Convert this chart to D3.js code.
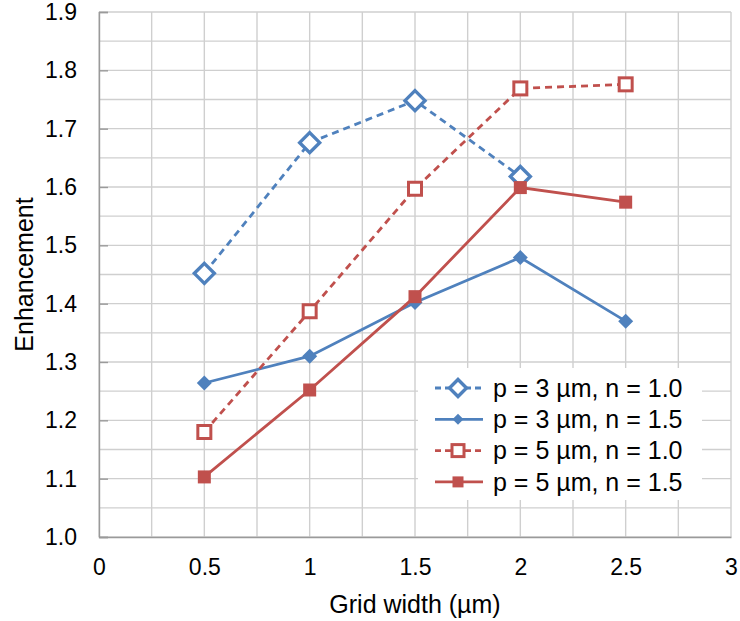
<!DOCTYPE html>
<html>
<head>
<meta charset="utf-8">
<script src="https://cdn.jsdelivr.net/npm/d3@7"></script>
<style>
  html, body { margin: 0; padding: 0; background: #fff; }
  text { font-family: "Liberation Sans", Arial, sans-serif; fill: #000; }
</style>
</head>
<body>
<svg id="chart" width="740" height="621"></svg>
<script>
// Grid widths (µm) along the x axis
const gridWidths = [0.5, 1, 1.5, 2, 2.5];

// Enhancement per series
const p3n10 = [1.452, 1.676, 1.748, 1.618];
const p3n15 = [1.264, 1.310, 1.402, 1.479, 1.370];
const p5n10 = [1.180, 1.387, 1.597, 1.769, 1.776];
const p5n15 = [1.103, 1.252, 1.412, 1.599, 1.574];

const seriesNames = ["p = 3 µm, n = 1.0", "p = 3 µm, n = 1.5", "p = 5 µm, n = 1.0", "p = 5 µm, n = 1.5"];

const xTicks = [0, 0.5, 1, 1.5, 2, 2.5, 3];
const yTicks = [1.0, 1.1, 1.2, 1.3, 1.4, 1.5, 1.6, 1.7, 1.8, 1.9];

const blue = "#4f81bd", red = "#c0504d";
const series = [
  { name: seriesNames[0], values: p3n10, color: blue, dashed: true,  shape: "diamond", filled: false },
  { name: seriesNames[1], values: p3n15, color: blue, dashed: false, shape: "diamond", filled: true },
  { name: seriesNames[2], values: p5n10, color: red,  dashed: true,  shape: "square",  filled: false },
  { name: seriesNames[3], values: p5n15, color: red,  dashed: false, shape: "square",  filled: true }
];

const svg = d3.select("#chart");
const margin = { left: 99, right: 9, top: 12, bottom: 84 };
const W = 740, H = 621;

const x = d3.scaleLinear().domain([0, 3]).range([margin.left, W - margin.right]);
const y = d3.scaleLinear().domain([1.0, 1.9]).range([H - margin.bottom, margin.top]);

// Gridlines: every 0.25 in x, every 0.05 in y
const gx = d3.range(0, 3.0001, 0.25);
const gy = d3.range(1.0, 1.9001, 0.05);
const grid = svg.append("g").attr("stroke", "#cfcfcf").attr("stroke-width", 1.4);
grid.selectAll("line.v").data(gx).join("line")
  .attr("x1", d => x(d)).attr("x2", d => x(d))
  .attr("y1", y(1.9)).attr("y2", y(1.0));
grid.selectAll("line.h").data(gy).join("line")
  .attr("x1", x(0)).attr("x2", x(3))
  .attr("y1", d => y(d)).attr("y2", d => y(d));

// Axes
const yAxis = d3.axisLeft(y).tickValues(yTicks).tickFormat(d3.format(".1f")).tickSize(-9).tickPadding(22);
const xAxis = d3.axisBottom(x).tickValues(xTicks).tickFormat(d => String(d)).tickSize(0).tickPadding(22);

const ya = svg.append("g").attr("transform", `translate(${x(0)},0)`).call(yAxis);
const xa = svg.append("g").attr("transform", `translate(0,${y(1.0)})`).call(xAxis);
[ya, xa].forEach(a => {
  a.select(".domain").attr("stroke", "#9a9a9a").attr("stroke-width", 1.4);
  a.selectAll(".tick line").attr("stroke", "#9a9a9a").attr("stroke-width", 1.4);
  a.selectAll("text").style("font-size", "23px").style("font-family", "Liberation Sans, Arial, sans-serif").attr("fill", "#000");
});

// Axis titles
svg.append("text")
  .attr("x", (x(0) + x(3)) / 2).attr("y", 613)
  .attr("text-anchor", "middle").style("font-size", "25px")
  .text("Grid width (µm)");
svg.append("text")
  .attr("transform", `translate(33,${(y(1.0) + y(1.9)) / 2}) rotate(-90)`)
  .attr("text-anchor", "middle").style("font-size", "25px")
  .text("Enhancement");

// Marker drawing; sizes differ slightly between plot and legend
function drawMarker(g, s, cx, cy, small) {
  if (s.shape === "diamond") {
    const r = s.filled ? (small ? 5.5 : 7.5) : (small ? 8.5 : 10);
    g.append("path")
      .attr("d", `M${cx},${cy - r}L${cx + r},${cy}L${cx},${cy + r}L${cx - r},${cy}Z`)
      .attr("fill", s.filled ? s.color : "#fff")
      .attr("stroke", s.filled ? "none" : s.color)
      .attr("stroke-width", 3.4);
  } else {
    const h = s.filled ? (small ? 5.5 : 6.5) : (small ? 6 : 6.5);
    g.append("rect")
      .attr("x", cx - h).attr("y", cy - h).attr("width", 2 * h).attr("height", 2 * h)
      .attr("fill", s.filled ? s.color : "#fff")
      .attr("stroke", s.filled ? "none" : s.color)
      .attr("stroke-width", 3);
  }
}

const line = d3.line().x(d => x(d[0])).y(d => y(d[1]));

series.forEach(s => {
  const pts = s.values.map((v, i) => [gridWidths[i], v]);
  const g = svg.append("g");
  g.append("path")
    .attr("d", line(pts))
    .attr("fill", "none")
    .attr("stroke", s.color)
    .attr("stroke-width", 2.8)
    .attr("stroke-dasharray", s.dashed ? "7,5" : null);
  pts.forEach(p => drawMarker(g, s, x(p[0]), y(p[1]), false));
});

// Legend
const lg = svg.append("g");
lg.append("rect").attr("x", 418).attr("y", 368).attr("width", 284).attr("height", 132).attr("fill", "#fff");
series.forEach((s, i) => {
  const cy = 388 + i * 31.3;
  lg.append("line")
    .attr("x1", 435).attr("x2", 483).attr("y1", cy).attr("y2", cy)
    .attr("stroke", s.color).attr("stroke-width", 2.8)
    .attr("stroke-dasharray", s.dashed ? "6,4" : null);
  drawMarker(lg, s, 458, cy, true);
  lg.append("text")
    .attr("x", 493).attr("y", cy).attr("dy", "0.35em")
    .style("font-size", "25px")
    .text(s.name);
});
</script>
</body>
</html>
